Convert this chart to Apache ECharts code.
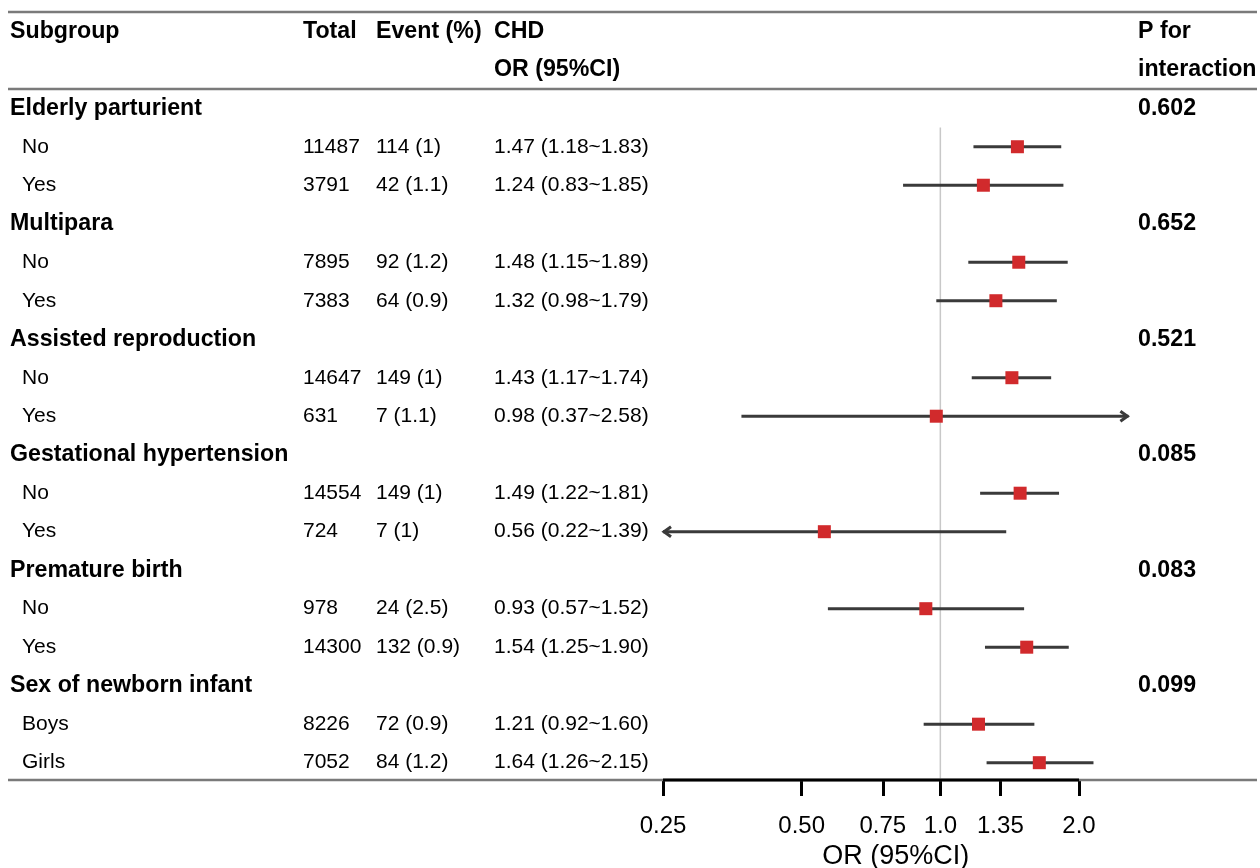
<!DOCTYPE html>
<html>
<head>
<meta charset="utf-8">
<script src="https://cdn.jsdelivr.net/npm/echarts@6/dist/echarts.min.js"></script>
<style>
  html, body { margin: 0; padding: 0; background: #fff; }
  #chart { width: 1260px; height: 868px; }
</style>
</head>
<body>
<div id="chart"></div>
<script>
// subgroup data
const groups = ['Elderly parturient', 'Multipara', 'Assisted reproduction', 'Gestational hypertension', 'Premature birth', 'Sex of newborn infant'];
const pInteraction = ['0.602', '0.652', '0.521', '0.085', '0.083', '0.099'];
const levels = ['No', 'Yes', 'No', 'Yes', 'No', 'Yes', 'No', 'Yes', 'No', 'Yes', 'Boys', 'Girls'];
const totals = [11487, 3791, 7895, 7383, 14647, 631, 14554, 724, 978, 14300, 8226, 7052];
const events = ['114 (1)', '42 (1.1)', '92 (1.2)', '64 (0.9)', '149 (1)', '7 (1.1)', '149 (1)', '7 (1)', '24 (2.5)', '132 (0.9)', '72 (0.9)', '84 (1.2)'];
const orValues = [1.47, 1.24, 1.48, 1.32, 1.43, 0.98, 1.49, 0.56, 0.93, 1.54, 1.21, 1.64];
const ciLower = [1.18, 0.83, 1.15, 0.98, 1.17, 0.37, 1.22, 0.22, 0.57, 1.25, 0.92, 1.26];
const ciUpper = [1.83, 1.85, 1.89, 1.79, 1.74, 2.58, 1.81, 1.39, 1.52, 1.90, 1.60, 2.15];
const tickValues = [0.25, 0.5, 0.75, 1, 1.35, 2];
const tickLabels = ['0.25', '0.50', '0.75', '1.0', '1.35', '2.0'];

// layout
const FONT = '"Liberation Sans", Arial, sans-serif';
const xMin = 0.25, xMax = 2.56;
const rowMin = -0.5, rowMax = 19.45;
const gridTop = 12, gridHeight = 768;
const colSub = 10, colLevel = 22, colTotal = 303, colEvent = 376, colOr = 494, colP = 1138;

const groupRow = g => 2 + g * 3;
const levelRow = i => 3 + Math.floor(i / 2) * 3 + (i % 2);

// table cells
const cells = [];
const addCell = (x, row, text, bold) => cells.push({ x, row, text, bold });
addCell(colSub, 0, 'Subgroup', true);
addCell(colTotal, 0, 'Total', true);
addCell(colEvent, 0, 'Event (%)', true);
addCell(colOr, 0, 'CHD', true);
addCell(colOr, 1, 'OR (95%CI)', true);
addCell(colP, 0, 'P for', true);
addCell(colP, 1, 'interaction', true);
groups.forEach((g, k) => {
  addCell(colSub, groupRow(k), g, true);
  addCell(colP, groupRow(k), pInteraction[k], true);
});
levels.forEach((lv, i) => {
  const r = levelRow(i);
  addCell(colLevel, r, lv, false);
  addCell(colTotal, r, String(totals[i]), false);
  addCell(colEvent, r, events[i], false);
  addCell(colOr, r, orValues[i].toFixed(2) + ' (' + ciLower[i].toFixed(2) + '~' + ciUpper[i].toFixed(2) + ')', false);
});

// horizontal rules of the table
const rules = [[8, 1257, -0.5], [8, 1257, 1.5], [8, 1257, 19.45]];

const chart = echarts.init(document.getElementById('chart'));

const option = {
  animation: false,
  grid: [
    { left: 663, right: 131.6, top: gridTop, height: gridHeight, outerBoundsMode: 'none' },
    { left: 0, right: 0, top: gridTop, height: gridHeight, outerBoundsMode: 'none' }
  ],
  xAxis: [
    {
      type: 'log',
      logBase: 2,
      gridIndex: 0,
      min: xMin,
      max: xMax,
      position: 'bottom',
      axisLine: { show: false, onZero: false },
      splitLine: { show: false },
      axisTick: {
        show: true,
        length: 16,
        customValues: tickValues,
        lineStyle: { color: '#000', width: 3 }
      },
      axisLabel: {
        show: true,
        margin: 34,
        customValues: tickValues,
        formatter: v => tickLabels[tickValues.findIndex(t => Math.abs(t - v) < 1e-6)] || '',
        color: '#000',
        fontSize: 24,
        fontFamily: FONT
      },
      name: 'OR (95%CI)',
      nameLocation: 'middle',
      nameGap: 61,
      nameTextStyle: { color: '#000', fontSize: 27, fontFamily: FONT }
    },
    { type: 'value', gridIndex: 1, min: 0, max: 1260, show: false }
  ],
  yAxis: [
    { type: 'value', gridIndex: 0, min: rowMin, max: rowMax, inverse: true, show: false },
    { type: 'value', gridIndex: 1, min: rowMin, max: rowMax, inverse: true, show: false }
  ],
  series: [
    {
      // table rules
      type: 'custom',
      xAxisIndex: 1,
      yAxisIndex: 1,
      silent: true,
      z: 1,
      data: rules,
      renderItem: (params, api) => {
        const p1 = api.coord([api.value(0), api.value(2)]);
        const p2 = api.coord([api.value(1), api.value(2)]);
        return {
          type: 'line',
          shape: { x1: p1[0], y1: p1[1], x2: p2[0], y2: p2[1] },
          style: { stroke: '#7a7a7a', lineWidth: 2.5 }
        };
      }
    },
    {
      // table text
      type: 'custom',
      xAxisIndex: 1,
      yAxisIndex: 1,
      silent: true,
      z: 5,
      data: cells.map(c => [c.x, c.row]),
      renderItem: (params, api) => {
        const c = cells[params.dataIndex];
        const p = api.coord([api.value(0), api.value(1)]);
        return {
          type: 'text',
          x: p[0],
          y: p[1],
          style: {
            text: c.text,
            fill: '#000',
            font: (c.bold ? 'bold 23.2px ' : '21px ') + FONT,
            align: 'left',
            verticalAlign: 'middle'
          }
        };
      }
    },
    {
      // reference line at OR = 1
      type: 'line',
      xAxisIndex: 0,
      yAxisIndex: 0,
      silent: true,
      symbol: 'none',
      clip: false,
      z: 2,
      data: [[1, 2.5], [1, rowMax]],
      lineStyle: { color: '#c8c8c8', width: 1.5 }
    },
    {
      // axis line from first to last tick
      type: 'line',
      xAxisIndex: 0,
      yAxisIndex: 0,
      silent: true,
      symbol: 'none',
      clip: false,
      z: 3,
      data: [[tickValues[0], rowMax], [tickValues[tickValues.length - 1], rowMax]],
      lineStyle: { color: '#000', width: 3 }
    },
    {
      // confidence intervals
      type: 'custom',
      xAxisIndex: 0,
      yAxisIndex: 0,
      silent: true,
      z: 4,
      encode: { x: [0, 1], y: 2 },
      data: ciLower.map((lo, i) => [lo, ciUpper[i], levelRow(i)]),
      renderItem: (params, api) => {
        const lo = api.value(0), hi = api.value(1), row = api.value(2);
        const p1 = api.coord([Math.max(lo, xMin), row]);
        const p2 = api.coord([Math.min(hi, xMax), row]);
        const st = { stroke: '#3a3a3a', lineWidth: 3, fill: null, lineCap: 'butt' };
        const children = [{
          type: 'line',
          shape: { x1: p1[0], y1: p1[1], x2: p2[0], y2: p2[1] },
          style: st
        }];
        if (lo < xMin) {
          children.push({
            type: 'polyline',
            shape: { points: [[p1[0] + 8, p1[1] - 5], [p1[0] + 1, p1[1]], [p1[0] + 8, p1[1] + 5]] },
            style: st
          });
        }
        if (hi > xMax) {
          children.push({
            type: 'polyline',
            shape: { points: [[p2[0] - 8, p2[1] - 5], [p2[0] - 1, p2[1]], [p2[0] - 8, p2[1] + 5]] },
            style: st
          });
        }
        return { type: 'group', children };
      }
    },
    {
      // point estimates
      type: 'scatter',
      xAxisIndex: 0,
      yAxisIndex: 0,
      silent: true,
      z: 6,
      symbol: 'rect',
      symbolSize: 13,
      itemStyle: { color: '#d12a2c', opacity: 1 },
      data: orValues.map((v, i) => [v, levelRow(i)])
    }
  ]
};

chart.setOption(option);
window.addEventListener('resize', () => chart.resize());
</script>
</body>
</html>
